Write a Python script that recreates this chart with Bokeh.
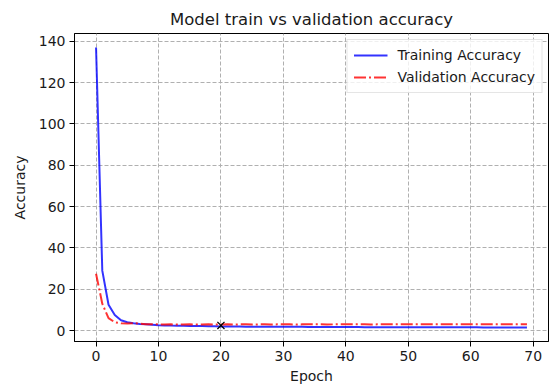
from bokeh.plotting import figure
from bokeh.models import Range1d, FixedTicker, Legend, LegendItem
from bokeh.embed import file_html
from bokeh.resources import INLINE

epochs = list(range(70))
train_acc = [137.0, 29.0, 12.5, 7.5, 5.0, 4.0, 3.5, 3.2, 3.0, 2.8,
             2.6, 2.5, 2.4, 2.35, 2.3, 2.25, 2.2, 2.15, 2.1, 2.05,
             2.0, 2.0, 1.95, 1.95, 1.9, 1.9, 1.9, 1.85, 1.85, 1.85,
             1.8, 1.8, 1.8, 1.8, 1.75, 1.75, 1.75, 1.75, 1.7, 1.7,
             1.7, 1.7, 1.7, 1.65, 1.65, 1.65, 1.65, 1.65, 1.6, 1.6,
             1.6, 1.6, 1.6, 1.6, 1.6, 1.55, 1.55, 1.55, 1.55, 1.55,
             1.55, 1.55, 1.5, 1.5, 1.5, 1.5, 1.5, 1.5, 1.5, 1.5]
val_acc = [27.5, 13.0, 6.0, 4.0, 3.5, 3.4, 3.6, 3.3, 3.1, 3.0,
           3.0, 2.9, 3.0, 2.9, 2.9, 3.0, 2.9, 2.9, 3.0, 2.9,
           2.9, 3.0, 2.9, 3.0, 3.0, 2.9, 3.0, 3.0, 2.9, 3.0,
           3.0, 3.0, 2.9, 3.0, 3.0, 3.0, 3.0, 2.9, 3.0, 3.0,
           3.0, 3.0, 3.0, 3.0, 2.9, 3.0, 3.0, 3.0, 3.0, 3.0,
           3.0, 3.0, 3.0, 3.0, 3.0, 3.0, 3.0, 3.0, 3.0, 3.0,
           3.0, 3.0, 3.0, 3.0, 3.0, 3.0, 3.0, 3.0, 3.0, 3.0]
best_epoch = [20]
best_value = [2.5]
x_ticks = [0, 10, 20, 30, 40, 50, 60, 70]
y_ticks = [0, 20, 40, 60, 80, 100, 120, 140]

FONT = "DejaVu Sans"

p = figure(width=549, height=386, output_backend="svg", toolbar_location=None,
           x_range=Range1d(-3.45, 72.45), y_range=Range1d(-5.3, 143.8),
           min_border_left=74, min_border_right=1, min_border_top=33,
           min_border_bottom=45)

p.title.text = "Model train vs validation accuracy"
p.title.align = "center"
p.title.text_font = FONT
p.title.text_font_size = "16.5px"
p.title.text_font_style = "normal"
p.title.text_color = "#1a1a1a"

p.outline_line_color = "black"
p.outline_line_width = 1
p.outline_line_alpha = 1

for ax in (p.xaxis[0], p.yaxis[0]):
    ax.major_label_text_font = FONT
    ax.major_label_text_font_size = "14px"
    ax.major_label_text_color = "#1a1a1a"
    ax.axis_label_text_font = FONT
    ax.axis_label_text_font_size = "14px"
    ax.axis_label_text_font_style = "normal"
    ax.axis_label_text_color = "#1a1a1a"
    ax.major_tick_in = 0
    ax.major_tick_out = 5
    ax.minor_tick_line_color = None
    ax.axis_line_color = "black"
    ax.major_tick_line_color = "black"

p.xaxis[0].ticker = FixedTicker(ticks=x_ticks)
p.yaxis[0].ticker = FixedTicker(ticks=y_ticks)
p.xaxis[0].axis_label = "Epoch"
p.yaxis[0].axis_label = "Accuracy"
p.xaxis[0].axis_label_standoff = 4
p.yaxis[0].axis_label_standoff = 8
p.xaxis[0].major_label_standoff = 4
p.yaxis[0].major_label_standoff = 4

for g in (p.xgrid[0], p.ygrid[0]):
    g.grid_line_color = "#b0b0b0"
    g.grid_line_dash = "4 2"
    g.grid_line_width = 1

r_train = p.line(epochs, train_acc, line_color="blue", line_width=2, line_alpha=0.8)
r_val = p.line(epochs, val_acc, line_color="red", line_width=2, line_alpha=0.8,
               line_dash="12 3 2 3")
p.scatter(best_epoch, best_value, marker="x", size=10, line_color="black", line_width=1.3)

legend = Legend(items=[LegendItem(label="Training Accuracy", renderers=[r_train]),
                       LegendItem(label="Validation Accuracy", renderers=[r_val])],
                location="top_right")
legend.label_text_font = FONT
legend.label_text_font_size = "14px"
legend.label_text_color = "#1a1a1a"
legend.border_line_color = "#cccccc"
legend.border_line_width = 1
legend.background_fill_alpha = 0.8
legend.glyph_width = 34
legend.glyph_height = 16
legend.spacing = 4
legend.padding = 6
legend.margin = 6
legend.label_standoff = 10
legend.label_height = 18
p.add_layout(legend)

open("out.html", "w").write(file_html(p, INLINE))
